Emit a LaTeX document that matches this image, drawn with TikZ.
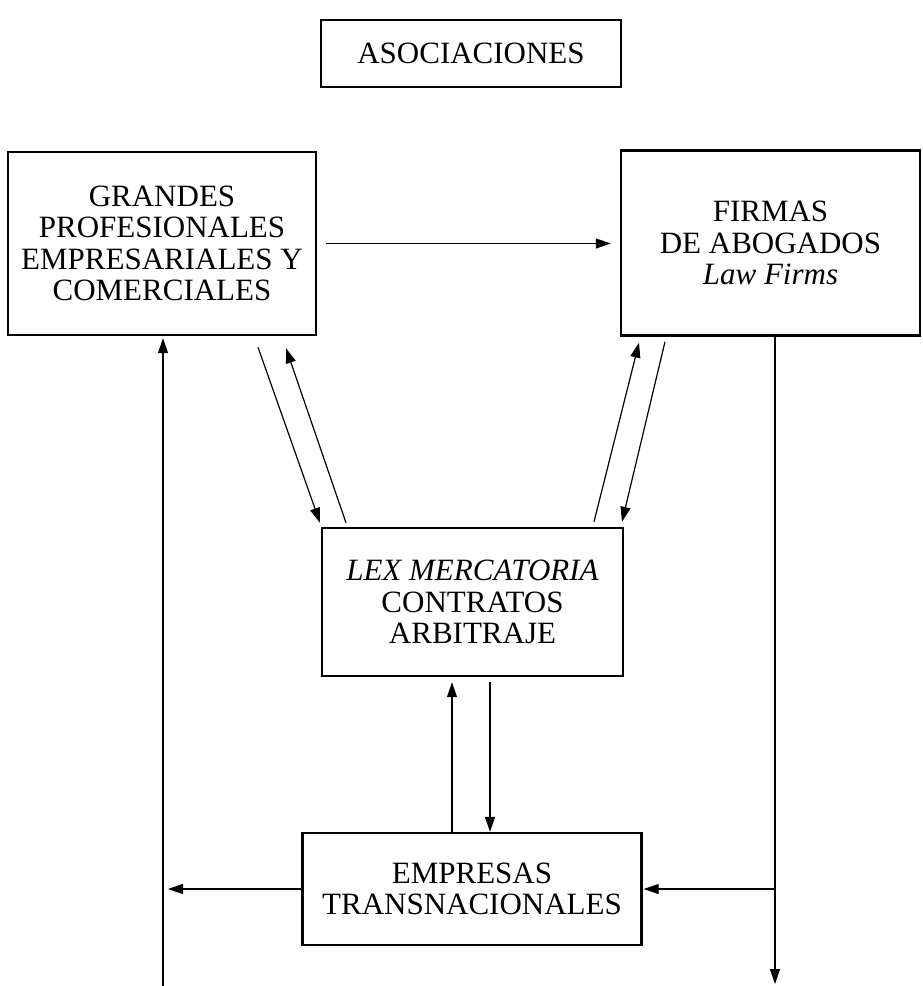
\documentclass[tikz,border=0pt]{standalone}
\usepackage{fontspec}
\setmainfont{Liberation Serif}
\usetikzlibrary{arrows.meta,calc}
\tikzset{
  box/.style={draw, line width=2.4pt, align=center, inner sep=0pt,
    font=\fontsize{31}{31.5}\selectfont},
  arr/.style={line width=1.2pt, -{Triangle[length=15pt,width=10pt]}}
}
\begin{document}
\begin{tikzpicture}[x=1pt,y=-1pt]
\useasboundingbox (0,0) rectangle (923,986);
\node[box, minimum width=300pt, minimum height=67pt] (asoc) at (471,53.5) {ASOCIACIONES};
\node[box, minimum width=308pt, minimum height=183pt] (grandes) at (162,243.5)
  {GRANDES\\PROFESIONALES\\EMPRESARIALES Y\\COMERCIALES};
\node[box, minimum width=299pt, minimum height=185pt] (firmas) at (770.5,243)
  {FIRMAS\\DE ABOGADOS\\\textit{Law Firms}};
\node[box, minimum width=301pt, minimum height=148pt] (lex) at (472.5,602)
  {\textit{LEX MERCATORIA}\\CONTRATOS\\ARBITRAJE};
\node[box, minimum width=339pt, minimum height=112pt] (empresas) at (472,889)
  {EMPRESAS\\TRANSNACIONALES};
\coordinate (lb) at (163,986);
\coordinate (rb) at (775,984);
% horizontal top
\draw[arr, shorten <=9pt, shorten >=9pt] (grandes.east) -- (grandes.east -| firmas.west);
% outer verticals
\draw[arr, shorten >=2pt] (lb) -- (lb |- grandes.south);
\draw[arr] (rb |- firmas.south) -- (rb);
\draw[arr, shorten >=5pt] (empresas.west) -- (empresas.west -| lb);
\draw[arr, shorten >=1pt] (rb |- empresas.east) -- (empresas.east);
% diagonals
\draw[arr] ($(grandes.south)+(96,11)$) -- ($(lex.north)+(-152.5,-4)$);
\draw[arr] ($(lex.north)+(-126.5,-4)$) -- ($(grandes.south)+(124,12)$);
\draw[arr] ($(lex.north)+(121.5,-5)$) -- ($(firmas.south)+(-131.5,6)$);
\draw[arr] ($(firmas.south)+(-105.5,5)$) -- ($(lex.north)+(149.5,-5)$);
% center verticals
\draw[arr] ($(empresas.north)+(-20,0)$) -- ($(lex.south)+(-20.5,5)$);
\draw[arr] ($(lex.south)+(17.5,5)$) -- ($(empresas.north)+(18,0)$);
\end{tikzpicture}
\end{document}
